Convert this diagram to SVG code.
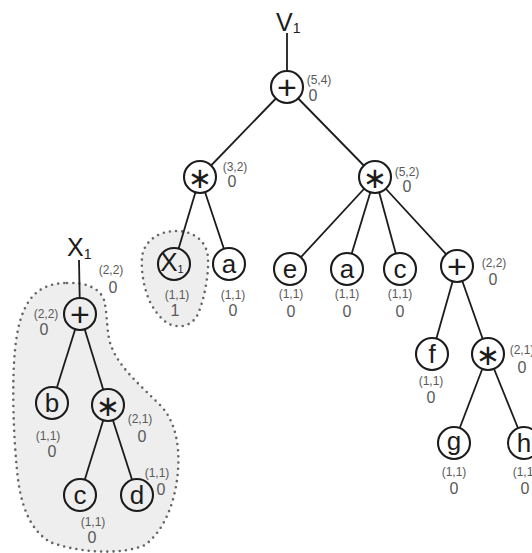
<svg xmlns="http://www.w3.org/2000/svg" width="532" height="553" viewBox="0 0 532 553">
  <style>
    .edge { stroke: #1c1c1c; stroke-width: 1.8; fill: none; }
    .node circle { stroke: #1c1c1c; stroke-width: 2.1; fill: #ffffff; }
    .shaded circle { fill: #eeeeee; }
    .sym { font-family: "Liberation Sans", Arial, sans-serif; font-size: 26px; fill: #1c1c1c; text-anchor: middle; }
    .op { font-family: "Liberation Sans", Arial, sans-serif; font-size: 34px; fill: #1c1c1c; text-anchor: middle; }
    .star { font-family: "DejaVu Sans", sans-serif; font-size: 29px; fill: #1c1c1c; text-anchor: middle; }
    .dim { font-family: "Liberation Sans", Arial, sans-serif; font-size: 12px; fill: #5a5a5a; text-anchor: middle; }
    .cnt { font-family: "Liberation Sans", Arial, sans-serif; font-size: 16px; fill: #5a5a5a; text-anchor: middle; }
    .title { font-family: "Liberation Sans", Arial, sans-serif; font-size: 25px; fill: #1c1c1c; }
    .region { fill: #eeeeee; stroke: #666666; stroke-width: 2.6; stroke-linecap: round; stroke-dasharray: 0 6.2; }
  </style>

  <!-- shaded sub-expression regions -->
  <g id="regions">
    <path class="region" d="M 67,283 C 85,282 100,288 104,300 C 108,315 106,335 112,348 C 120,368 140,385 160,405 C 175,420 180,445 178,470 C 176,500 165,530 145,545 C 120,556 75,552 50,542 C 30,530 20,505 17,470 C 13,430 12,380 15,350 C 18,320 25,300 40,290 C 48,285 57,283 67,283 Z"/>
    <path class="region" d="M 176,231 C 195,231 207,242 208,258 C 209,275 204,300 198,314 C 193,324 185,327 176,326 C 166,325 158,316 151,304 C 144,290 141,272 142,258 C 143,242 158,231 176,231 Z"/>
  </g>

  <!-- connectors -->
  <g id="connectors">
    <line class="edge" x1="287" y1="33" x2="287" y2="87"/>
    <line class="edge" x1="287" y1="87" x2="200" y2="177"/>
    <line class="edge" x1="287" y1="87" x2="375" y2="177"/>
    <line class="edge" x1="200" y1="177" x2="174" y2="264"/>
    <line class="edge" x1="200" y1="177" x2="229" y2="264"/>
    <line class="edge" x1="375" y1="177" x2="290" y2="269"/>
    <line class="edge" x1="375" y1="177" x2="347" y2="269"/>
    <line class="edge" x1="375" y1="177" x2="400" y2="269"/>
    <line class="edge" x1="375" y1="177" x2="457" y2="266"/>
    <line class="edge" x1="457" y1="266" x2="432" y2="354"/>
    <line class="edge" x1="457" y1="266" x2="488" y2="354"/>
    <line class="edge" x1="488" y1="354" x2="454" y2="443"/>
    <line class="edge" x1="488" y1="354" x2="524" y2="443"/>
    <line class="edge" x1="79" y1="260" x2="80" y2="314"/>
    <line class="edge" x1="80" y1="314" x2="52" y2="403"/>
    <line class="edge" x1="80" y1="314" x2="108" y2="405"/>
    <line class="edge" x1="108" y1="405" x2="80" y2="495"/>
    <line class="edge" x1="108" y1="405" x2="137" y2="495"/>
  </g>

  <!-- titles -->
  <text class="title" x="276" y="31" font-size="23">V<tspan font-size="14" dy="2">1</tspan></text>
  <text class="title" x="67" y="256">X<tspan font-size="14" dy="3">1</tspan></text>

  <!-- main tree -->
  <g id="root" class="node">
    <circle cx="287" cy="87" r="16"/>
    <text class="op" x="287" y="99">+</text>
    <text class="dim" x="319" y="84">(5,4)</text>
    <text class="cnt" x="313" y="101">0</text>
  </g>
  <g id="mulL" class="node">
    <circle cx="200" cy="177" r="16"/>
    <text class="star" x="200" y="188">∗</text>
    <text class="dim" x="235" y="171">(3,2)</text>
    <text class="cnt" x="232" y="187">0</text>
  </g>
  <g id="mulR" class="node">
    <circle cx="375" cy="177" r="16"/>
    <text class="star" x="375" y="188">∗</text>
    <text class="dim" x="407" y="176">(5,2)</text>
    <text class="cnt" x="407" y="192">0</text>
  </g>
  <g id="x1ref" class="node shaded">
    <circle cx="174" cy="264" r="16"/>
    <text class="sym" x="172" y="271" font-size="21">X<tspan font-size="11" dy="2">1</tspan></text>
    <text class="dim" x="177" y="299">(1,1)</text>
    <text class="cnt" x="175" y="316">1</text>
  </g>
  <g id="a1" class="node">
    <circle cx="229" cy="264" r="16"/>
    <text class="sym" x="229" y="273">a</text>
    <text class="dim" x="233" y="299">(1,1)</text>
    <text class="cnt" x="233" y="316">0</text>
  </g>
  <g id="e" class="node">
    <circle cx="290" cy="269" r="16"/>
    <text class="sym" x="290" y="278">e</text>
    <text class="dim" x="291" y="298">(1,1)</text>
    <text class="cnt" x="291" y="317">0</text>
  </g>
  <g id="a2" class="node">
    <circle cx="347" cy="269" r="16"/>
    <text class="sym" x="347" y="278">a</text>
    <text class="dim" x="347" y="298">(1,1)</text>
    <text class="cnt" x="347" y="317">0</text>
  </g>
  <g id="c1" class="node">
    <circle cx="400" cy="269" r="16"/>
    <text class="sym" x="400" y="278">c</text>
    <text class="dim" x="400" y="298">(1,1)</text>
    <text class="cnt" x="400" y="317">0</text>
  </g>
  <g id="add2" class="node">
    <circle cx="457" cy="266" r="16"/>
    <text class="op" x="457" y="278">+</text>
    <text class="dim" x="494" y="267">(2,2)</text>
    <text class="cnt" x="493" y="285">0</text>
  </g>
  <g id="f" class="node">
    <circle cx="432" cy="354" r="16"/>
    <text class="sym" x="432" y="363">f</text>
    <text class="dim" x="431" y="385">(1,1)</text>
    <text class="cnt" x="431" y="403">0</text>
  </g>
  <g id="mul3" class="node">
    <circle cx="488" cy="354" r="16"/>
    <text class="star" x="488" y="365">∗</text>
    <text class="dim" x="522" y="354">(2,1)</text>
    <text class="cnt" x="522" y="373">0</text>
  </g>
  <g id="g" class="node">
    <circle cx="454" cy="443" r="16"/>
    <text class="sym" x="454" y="450">g</text>
    <text class="dim" x="454" y="476">(1,1)</text>
    <text class="cnt" x="454" y="494">0</text>
  </g>
  <g id="h" class="node">
    <circle cx="524" cy="443" r="16"/>
    <text class="sym" x="524" y="452">h</text>
    <text class="dim" x="525" y="476">(1,1)</text>
    <text class="cnt" x="525" y="494">0</text>
  </g>

  <!-- X1 sub-expression -->
  <g id="add1" class="node shaded">
    <circle cx="80" cy="314" r="16"/>
    <text class="op" x="80" y="326">+</text>
    <text class="dim" x="111" y="274">(2,2)</text>
    <text class="cnt" x="113" y="293">0</text>
    <text class="dim" x="46" y="318">(2,2)</text>
    <text class="cnt" x="44" y="335">0</text>
  </g>
  <g id="b" class="node shaded">
    <circle cx="52" cy="403" r="16"/>
    <text class="sym" x="52" y="412">b</text>
    <text class="dim" x="48" y="440">(1,1)</text>
    <text class="cnt" x="52" y="457">0</text>
  </g>
  <g id="mul1" class="node shaded">
    <circle cx="108" cy="405" r="16"/>
    <text class="star" x="108" y="416">∗</text>
    <text class="dim" x="140" y="423">(2,1)</text>
    <text class="cnt" x="142" y="442">0</text>
  </g>
  <g id="c2" class="node shaded">
    <circle cx="80" cy="495" r="16"/>
    <text class="sym" x="80" y="504">c</text>
    <text class="dim" x="93" y="526">(1,1)</text>
    <text class="cnt" x="92" y="543">0</text>
  </g>
  <g id="d" class="node shaded">
    <circle cx="137" cy="495" r="16"/>
    <text class="sym" x="137" y="504">d</text>
    <text class="dim" x="157" y="477">(1,1)</text>
    <text class="cnt" x="161" y="495">0</text>
  </g>
</svg>
